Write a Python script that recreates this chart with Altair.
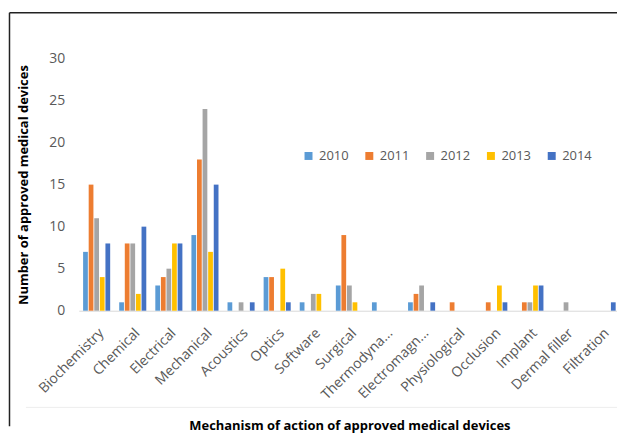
import altair as alt
import pandas as pd

categories = ["Biochemistry", "Chemical", "Electrical", "Mechanical", "Acoustics",
              "Optics", "Software", "Surgical", "Thermodyna...", "Electromagn...",
              "Physiological", "Occlusion", "Implant", "Dermal filler", "Filtration"]
years = ["2010", "2011", "2012", "2013", "2014"]
v2010 = [7, 1, 3, 9, 1, 4, 1, 3, 1, 1, 0, 0, 0, 0, 0]
v2011 = [15, 8, 4, 18, 0, 4, 0, 9, 0, 2, 1, 1, 1, 0, 0]
v2012 = [11, 8, 5, 24, 1, 0, 2, 3, 0, 3, 0, 0, 1, 1, 0]
v2013 = [4, 2, 8, 7, 0, 5, 2, 1, 0, 0, 0, 3, 3, 0, 0]
v2014 = [8, 10, 8, 15, 1, 1, 0, 0, 0, 1, 0, 1, 3, 0, 1]
colors = ["#5B9BD5", "#ED7D31", "#A5A5A5", "#FFC000", "#4472C4"]
y_ticks = [0, 5, 10, 15, 20, 25, 30]

rows = []
for yr, vals in zip(years, [v2010, v2011, v2012, v2013, v2014]):
    for c, v in zip(categories, vals):
        rows.append({"Mechanism": c, "Year": yr, "Count": v})
df = pd.DataFrame(rows)

FONT = "Open Sans"
GREY = "#595959"

bars = alt.Chart(df).mark_bar().encode(
    x=alt.X("Mechanism:N", sort=categories,
            scale=alt.Scale(paddingInner=0.25, paddingOuter=0.12),
            axis=alt.Axis(title="Mechanism of action of approved medical devices",
                          labelAngle=-45, labelFont=FONT, labelFontSize=14,
                          labelColor=GREY, ticks=False, domainColor="#D9D9D9",
                          labelPadding=15, titleFont=FONT, titleFontSize=13,
                          titleFontWeight="bold", titleColor="#000000",
                          titlePadding=18)),
    xOffset=alt.XOffset("Year:N", sort=years, scale=alt.Scale(paddingInner=0.15)),
    y=alt.Y("Count:Q", scale=alt.Scale(domain=[0, 30]),
            axis=alt.Axis(title="Number of approved medical devices", values=y_ticks,
                          grid=False, ticks=False, domain=False, labelFont=FONT,
                          labelFontSize=14, labelColor=GREY, labelPadding=14,
                          titleFont=FONT, titleFontSize=13, titleFontWeight="bold",
                          titleColor="#000000", titlePadding=18)),
    color=alt.Color("Year:N", sort=years,
                    scale=alt.Scale(domain=years, range=colors),
                    legend=alt.Legend(title=None, orient="none", direction="horizontal",
                                      legendX=224, legendY=91, symbolType="square",
                                      symbolSize=64, symbolStrokeWidth=0,
                                      labelFont=FONT, labelFontSize=13,
                                      labelColor=GREY, columnPadding=14)),
)

one = pd.DataFrame({"a": [0]})
top_line = alt.Chart(one).mark_rule(color="#222222", strokeWidth=1.5).encode(
    x=alt.value(-69.5), x2=alt.value(547), y=alt.value(-46))
left_line = alt.Chart(one).mark_rule(color="#222222", strokeWidth=1.5).encode(
    x=alt.value(-69.5), y=alt.value(-46), y2=alt.value(369))
sep_line = alt.Chart(one).mark_rule(color="#EDEDED", strokeWidth=1).encode(
    x=alt.value(-53), x2=alt.value(547), y=alt.value(350))

chart = alt.layer(bars, top_line, left_line, sep_line).properties(
    width=543, height=253,
    padding={"left": 0, "top": 3, "right": -8, "bottom": 0},
).configure_view(stroke=None)

chart.save("out.html", embed_options={"renderer": "svg", "actions": False})
